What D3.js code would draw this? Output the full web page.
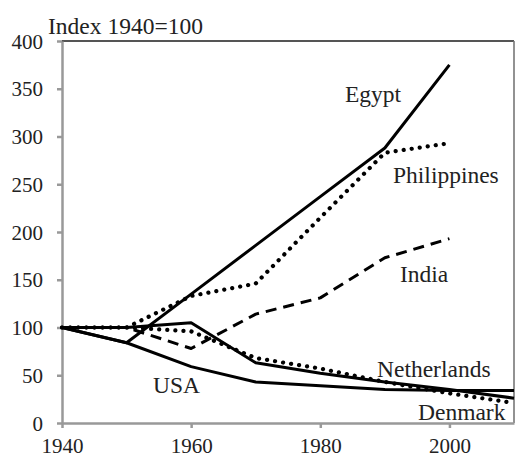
<!DOCTYPE html>
<html>
<head>
<meta charset="utf-8">
<script src="https://cdn.jsdelivr.net/npm/d3@7"></script>
<style>
	body { margin: 0; background: #fff; }
	svg { display: block; }
	svg text { font-family: "Liberation Serif", "Times New Roman", Times, "DejaVu Serif", serif; }
	.axis path, .axis line { stroke: #999; stroke-width: 2.5; }
	.axis text { font-size: 21px; fill: #222; }
	.label { font-size: 23.5px; fill: #222; }
	.series { fill: none; stroke: #000; stroke-linejoin: round; }
</style>
</head>
<body>
<div class="graphic__chart"></div>
<script>
const years = [1940, 1950, 1960, 1970, 1980, 1990, 2000, 2010]
const egypt = [100, 84, 135, 186, 237, 288, 375, null]
const philippines = [100, 100, 133, 146, 215, 283, 293, null]
const india = [100, 100, 78, 114, 131, 173, 193, null]
const usa = [100, 84, 59, 43, 39, 35, 34, 34]
const netherlands = [100, 100, 105, 63, 52, 43, 35, 26]
const denmark = [100, 100, 96, 68, 57, 43, 31, 21]
const yTicks = [0, 50, 100, 150, 200, 250, 300, 350, 400]
const xTicks = [1940, 1960, 1980, 2000]

const series = [
	{ name: 'Egypt', values: egypt, style: 'solid', lx: 345, ly: 102 },
	{ name: 'Philippines', values: philippines, style: 'dot', lx: 393, ly: 183 },
	{ name: 'India', values: india, style: 'dash', lx: 400, ly: 282 },
	{ name: 'USA', values: usa, style: 'solid', lx: 153, ly: 393 },
	{ name: 'Netherlands', values: netherlands, style: 'solid', lx: 377, ly: 377 },
	{ name: 'Denmark', values: denmark, style: 'dot', lx: 418, ly: 420 },
]

const serif = '"Liberation Serif", "Times New Roman", Times, "DejaVu Serif", serif'
const margin = { top: 41, right: 2, bottom: 33, left: 62 }
const W = 516
const H = 456
const width = W - margin.left - margin.right
const height = H - margin.top - margin.bottom

const svg = d3.select('.graphic__chart').append('svg')
	.attr('width', W)
	.attr('height', H)
	.attr('font-family', serif)

const g = svg.append('g')
	.attr('transform', `translate(${margin.left},${margin.top})`)

const scale = {
	x: d3.scaleLinear().domain([1940, 2010]).range([0, width]),
	y: d3.scaleLinear().domain([0, 400]).range([height, 0]),
}

// frame top / right
g.append('line')
	.attr('x1', 0).attr('x2', width)
	.attr('y1', 0).attr('y2', 0)
	.attr('stroke', '#555').attr('stroke-width', 2.2)
g.append('line')
	.attr('x1', width).attr('x2', width)
	.attr('y1', 0).attr('y2', height)
	.attr('stroke', '#777').attr('stroke-width', 1.6)

// axes
g.append('g')
	.attr('class', 'axis axis--y')
	.call(d3.axisLeft(scale.y).tickValues(yTicks).tickSize(5).tickPadding(14).tickSizeOuter(0))
	.attr('font-family', serif)
	.selectAll('text')
		.attr('dy', '0.34em')

g.append('g')
	.attr('class', 'axis axis--x')
	.attr('transform', `translate(0,${height})`)
	.call(d3.axisBottom(scale.x).tickValues(xTicks).tickFormat(d3.format('d')).tickSize(5).tickPadding(14).tickSizeOuter(0))
	.attr('font-family', serif)
	.selectAll('text')
		.attr('dy', '0.5em')

// lines
const line = d3.line()
	.defined(d => d[1] != null)
	.x(d => scale.x(d[0]))
	.y(d => scale.y(d[1]))

g.append('g')
	.selectAll('path')
	.data(series)
	.enter().append('path')
		.attr('class', d => `series series--${d.style}`)
		.attr('d', d => line(years.map((y, i) => [y, d.values[i]])))
		.attr('stroke-width', d => d.style === 'dot' ? 4.2 : 3)
		.attr('stroke-linecap', d => d.style === 'dot' ? 'round' : 'butt')
		.attr('stroke-dasharray', d => d.style === 'dot' ? '0.1 8' : d.style === 'dash' ? '11 7' : null)

// labels
svg.append('g')
	.selectAll('text')
	.data(series)
	.enter().append('text')
		.attr('class', 'label')
		.attr('x', d => d.lx)
		.attr('y', d => d.ly)
		.text(d => d.name)

svg.append('text')
	.attr('class', 'label')
	.attr('x', 48)
	.attr('y', 34)
	.text('Index 1940=100')
</script>
</body>
</html>
